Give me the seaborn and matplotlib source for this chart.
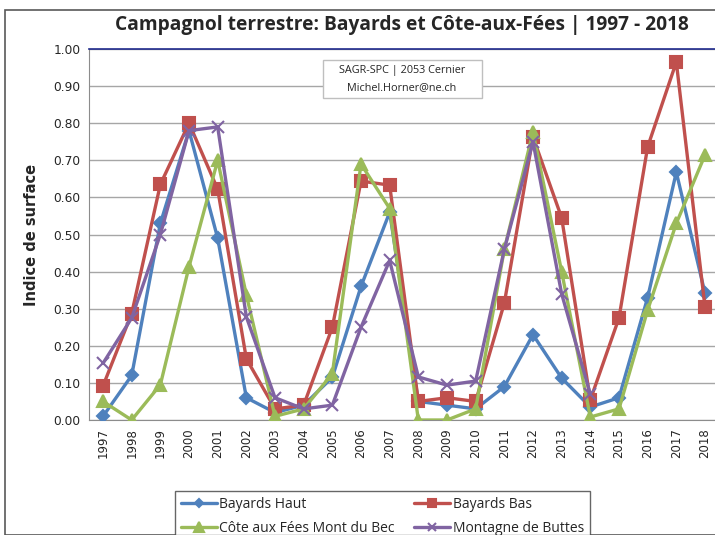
import numpy as np
import pandas as pd
import matplotlib
matplotlib.use('Agg')
import matplotlib.pyplot as plt
import seaborn as sns
from matplotlib.patches import Rectangle

# values
years = list(range(1997, 2019))
bayards_haut = [0.01, 0.12, 0.53, 0.78, 0.49, 0.06, 0.02, 0.04, 0.115, 0.36, 0.56,
                0.05, 0.04, 0.03, 0.09, 0.23, 0.113, 0.035, 0.06, 0.33, 0.668, 0.342]
bayards_bas = [0.092, 0.287, 0.635, 0.80, 0.622, 0.165, 0.03, 0.04, 0.25, 0.644, 0.633,
               0.05, 0.06, 0.05, 0.315, 0.763, 0.545, 0.054, 0.275, 0.736, 0.965, 0.305]
cote_aux_fees = [0.05, 0.0, 0.095, 0.413, 0.70, 0.337, 0.01, 0.03, 0.125, 0.69, 0.57,
                 0.0, 0.0, 0.03, 0.46, 0.776, 0.40, 0.008, 0.03, 0.296, 0.53, 0.714]
montagne_buttes = [0.153, 0.275, 0.50, 0.78, 0.79, 0.278, 0.06, 0.03, 0.04, 0.25, 0.43,
                   0.116, 0.094, 0.105, 0.46, 0.75, 0.34, 0.07,
                   np.nan, np.nan, np.nan, np.nan]

series_names = ['Bayards Haut', 'Bayards Bas', 'Côte aux Fées Mont du Bec', 'Montagne de Buttes']
series_values = [bayards_haut, bayards_bas, cote_aux_fees, montagne_buttes]

df = pd.concat([
    pd.DataFrame({'year': years, 'value': vals, 'site': name})
    for name, vals in zip(series_names, series_values)
], ignore_index=True)

palette = {
    'Bayards Haut': '#4F81BD',
    'Bayards Bas': '#C0504D',
    'Côte aux Fées Mont du Bec': '#9BBB59',
    'Montagne de Buttes': '#8064A2',
}
markers = {
    'Bayards Haut': 'D',
    'Bayards Bas': 's',
    'Côte aux Fées Mont du Bec': '^',
    'Montagne de Buttes': 'x',
}
msizes = {'Bayards Haut': 6, 'Bayards Bas': 8, 'Côte aux Fées Mont du Bec': 9,
          'Montagne de Buttes': 8}

sns.set_style('white')
plt.rcParams['font.family'] = ['DejaVu Sans']

fig = plt.figure(figsize=(7.15, 5.35), dpi=100)
W, H = 715, 535
ax = fig.add_axes([88.7 / W, 1 - 420 / H, (719.3 - 88.7) / W, (420 - 49) / H])

for name in series_names:
    sub = df[df['site'] == name]
    sns.lineplot(data=sub, x='year', y='value', color=palette[name],
                 marker=markers[name], markersize=msizes[name],
                 markeredgecolor=palette[name], markeredgewidth=1.5,
                 linewidth=2.4, label=name, ax=ax, zorder=3, legend=False)

ax.set_xlim(1996.5, 2018.5)
ax.set_ylim(0, 1.0)
ax.set_xticks(years)
ax.set_xticklabels([str(y) for y in years], rotation=90, fontsize=8.5)
ax.set_yticks(np.arange(0, 1.01, 0.1))
ax.set_yticklabels(['%.2f' % v for v in np.arange(0, 1.01, 0.1)], fontsize=8.8)
ax.tick_params(axis='both', length=0, pad=6)
ax.grid(axis='y', color='#a6a6a6', linewidth=1)
ax.set_axisbelow(True)
ax.set_xlabel('')
ax.set_ylabel('Indice de surface', fontsize=10.5, fontweight='bold', labelpad=10)
for s in ['left', 'bottom']:
    ax.spines[s].set_color('#8c8c8c')
ax.spines['top'].set_color('#1f2a8c')
ax.spines['top'].set_linewidth(1.2)
ax.spines['right'].set_visible(False)

fig.text(402 / W, 1 - 25 / H, 'Campagnol terrestre: Bayards et Côte-aux-Fées | 1997 - 2018',
         ha='center', va='center', fontsize=13.8, fontweight='bold', family='Open Sans')

# source box
fig.patches.append(Rectangle((323 / W, 1 - 98 / H), 159 / W, 38 / H, transform=fig.transFigure,
                             facecolor='white', edgecolor='#bfbfbf', linewidth=1, zorder=5))
fig.text(402 / W, 1 - 71 / H, 'SAGR-SPC | 2053 Cernier', ha='center', va='center',
         fontsize=7.8, family='Open Sans', zorder=6)
fig.text(402 / W, 1 - 88 / H, 'Michel.Horner@ne.ch', ha='center', va='center',
         fontsize=7.8, family='Open Sans', zorder=6)

# chart border
fig.patches.append(Rectangle((5 / W, 0), 1.2, 1 - 10 / H, transform=fig.transFigure,
                             fill=False, edgecolor='#595959', linewidth=1.2))

handles, labels = ax.get_legend_handles_labels()
order = [0, 2, 1, 3]
leg = fig.legend([handles[i] for i in order], [labels[i] for i in order], ncol=2,
                 loc='upper left', bbox_to_anchor=(168 / W, 1 - 484 / H), frameon=True,
                 fancybox=False, edgecolor='#404040', handlelength=2.6,
                 handletextpad=0.15, columnspacing=1.4, borderpad=0.45, labelspacing=0.65,
                 markerscale=0.75, prop={'family': 'Open Sans', 'size': 10})

fig.savefig('out.png', dpi=100)
